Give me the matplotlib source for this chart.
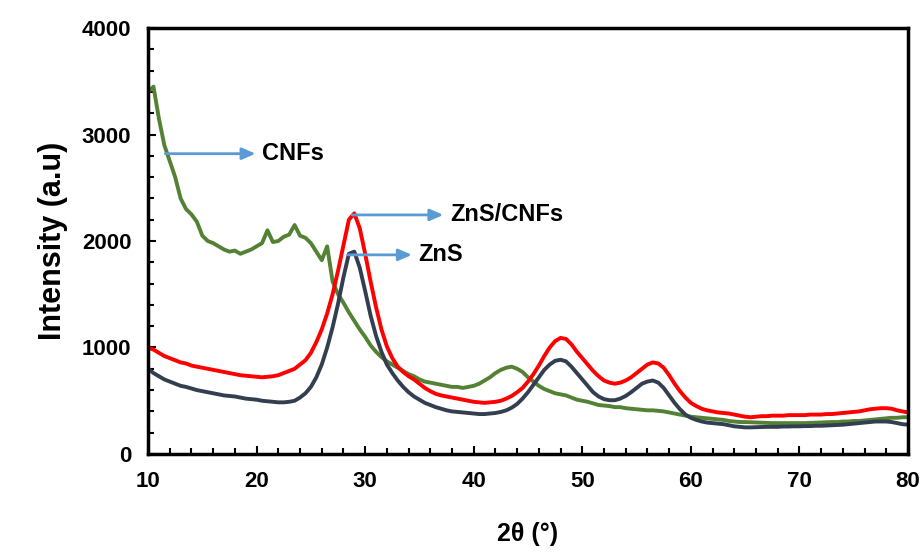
import numpy as np
import matplotlib
matplotlib.use("Agg")
import matplotlib.pyplot as plt
from matplotlib.ticker import MultipleLocator

plt.rcParams['font.family'] = ['Liberation Sans', 'DejaVu Sans']
plt.rcParams['font.weight'] = 'bold'

# 2-theta grid, 10..80 in 0.5 deg steps
two_theta = np.arange(10, 80.01, 0.5)

cnfs = [
    3400, 3450, 3150, 2900, 2750, 2600, 2400, 2300, 2250, 2180,
    2050, 2000, 1980, 1950, 1920, 1900, 1910, 1880, 1900, 1920,
    1950, 1980, 2100, 1990, 2000, 2040, 2060, 2150, 2050, 2030,
    1980, 1900, 1820, 1950, 1620, 1500, 1420, 1330, 1250, 1170,
    1100, 1020, 960, 910, 870, 840, 810, 780, 750, 730,
    700, 680, 670, 660, 650, 640, 630, 630, 620, 630,
    640, 660, 690, 720, 760, 790, 810, 820, 800, 770,
    720, 680, 640, 610, 590, 570, 560, 550, 530, 510,
    500, 490, 475, 460, 455, 450, 440, 440, 430, 425,
    420, 415, 410, 410, 405, 400, 390, 380, 370, 360,
    350, 345, 340, 335, 330, 325, 320, 310, 305, 300,
    300, 298, 295, 295, 292, 290, 290, 290, 290, 290,
    290, 290, 292, 295, 295, 298, 300, 300, 305, 305,
    310, 310, 315, 320, 325, 330, 335, 340, 340, 345,
    345,
]

zns_cnfs = [
    1000, 980, 950, 920, 900, 880, 860, 850, 830, 820,
    810, 800, 790, 780, 770, 760, 750, 740, 735, 730,
    725, 720, 725, 730, 740, 760, 780, 800, 840, 880,
    950, 1050, 1170, 1320, 1500, 1720, 1960, 2200, 2260, 2120,
    1880, 1620, 1380, 1170, 1010, 900, 820, 770, 730, 700,
    660, 620, 590, 565, 550, 540, 530, 520, 510, 500,
    490, 485, 480, 485, 490, 500, 520, 545, 580, 620,
    680, 750, 830, 920, 1000, 1060, 1090, 1080, 1030, 960,
    900, 840, 780, 730, 690, 670, 660, 670, 690, 720,
    760, 800, 840, 860, 850, 810, 740, 660, 590, 530,
    480, 450, 425, 410, 400, 390, 385, 380, 370, 360,
    350, 345, 350, 355, 355, 360, 360, 360, 365, 365,
    365, 365, 370, 370, 370, 375, 375, 380, 385, 390,
    395, 400, 410, 420, 425, 430, 430, 425, 410, 400,
    390,
]

zns = [
    800, 760, 730, 700, 680, 660, 640, 630, 615, 600,
    590, 580, 570, 560, 550, 545, 540, 530, 520, 515,
    510, 500, 495, 490, 485, 485, 490, 500, 530, 570,
    630, 720, 840, 1000, 1190, 1410, 1660, 1880, 1900, 1750,
    1530, 1300, 1110, 960, 840, 760, 690, 630, 580, 540,
    510, 480, 460, 440, 425, 410, 400, 395, 390, 385,
    380, 375, 375, 380, 385, 395, 410, 435, 470, 520,
    580, 650, 720, 790, 840, 875, 885, 870, 820, 760,
    700, 640, 580, 540, 515, 505, 505, 520, 545, 580,
    620, 660, 680, 690, 670, 620, 550, 480, 420, 370,
    340, 320, 305, 295, 290, 285, 280, 270, 260, 255,
    250, 250, 252, 255, 255, 255, 255, 258, 258, 260,
    260, 262, 262, 265, 265, 268, 270, 272, 275, 280,
    285, 290, 295, 300, 305, 305, 305, 300, 290, 280,
    275,
]

# label, arrow start (x, y), arrow end x
labels = ["CNFs", "ZnS/CNFs", "ZnS"]
arrow_start = [(11.6, 2820), (28.8, 2245), (28.4, 1870)]
arrow_end_x = [19.9, 37.2, 34.3]

fig = plt.figure(figsize=(9.23, 5.55), dpi=100)
ax = fig.add_axes([0.1604, 0.182, 0.8233, 0.7675])

ax.plot(two_theta, cnfs, color='#548235', lw=2.8)
ax.plot(two_theta, zns_cnfs, color='#FF0000', lw=2.8)
ax.plot(two_theta, zns, color='#333F50', lw=2.8)

for lab, (sx, sy), ex in zip(labels, arrow_start, arrow_end_x):
    ax.annotate('', xy=(ex, sy), xytext=(sx, sy),
                arrowprops=dict(arrowstyle='-|>,head_length=0.8,head_width=0.35',
                                color='#5B9BD5', lw=2, shrinkA=0, shrinkB=0))
    ax.text(ex + 0.6, sy, lab, fontsize=17, fontweight='bold', va='center', ha='left')

ax.set_xlim(10, 80)
ax.set_ylim(0, 4000)
ax.xaxis.set_major_locator(MultipleLocator(10))
ax.xaxis.set_minor_locator(MultipleLocator(2))
ax.yaxis.set_major_locator(MultipleLocator(1000))
ax.yaxis.set_minor_locator(MultipleLocator(200))
ax.tick_params(which='both', direction='in', width=1.5, labelsize=16, pad=12)
ax.tick_params(which='major', length=6)
ax.tick_params(which='minor', length=4)
for sp in ax.spines.values():
    sp.set_linewidth(2.5)

ax.set_xlabel('2θ (°)', fontsize=18, fontweight='bold', labelpad=22)
ax.set_ylabel('Intensity (a.u)', fontsize=22, fontweight='bold', labelpad=10)

fig.savefig('out.png', dpi=100)
